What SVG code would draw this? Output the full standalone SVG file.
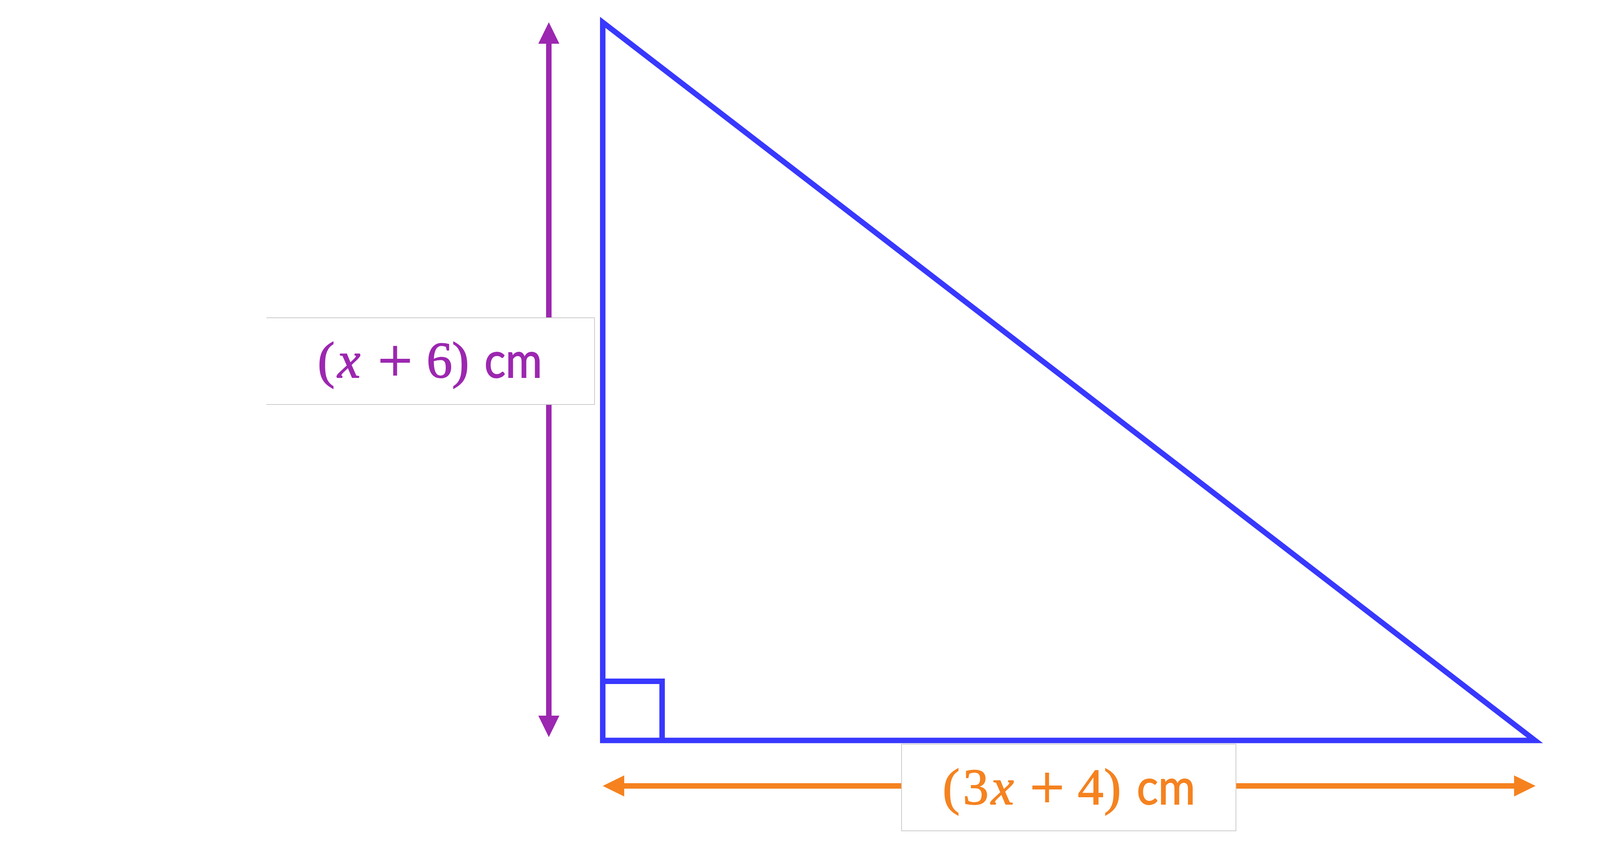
<svg xmlns="http://www.w3.org/2000/svg" width="4668" height="2172" viewBox="0 0 4668 2172">
<style>
.tri{fill:none;stroke:#3838ff;stroke-width:14;stroke-linejoin:miter;stroke-miterlimit:10}
.lbl{fill:#ffffff;stroke:none}
.edge{fill:none;stroke:#cccccc;stroke-width:2}
.t{font-family:"Liberation Serif","Times New Roman",serif;font-size:132px;stroke-width:2}
.pur{fill:#9c27b0;stroke:#9c27b0}
.org{fill:#f5821f;stroke:#f5821f}
.it{font-style:italic}
.op{font-size:158px}
.u{font-family:Lato,"Liberation Sans",sans-serif;font-size:127px}
</style>
<defs>
<marker id="ahP" viewBox="0 0 55 54" refX="0" refY="27" markerWidth="55" markerHeight="54" markerUnits="userSpaceOnUse" orient="auto-start-reverse" overflow="visible">
<path d="M0,0 L55,27 L0,54 Z" fill="#9c27b0"/>
</marker>
<marker id="ahO" viewBox="0 0 55 54" refX="0" refY="27" markerWidth="55" markerHeight="54" markerUnits="userSpaceOnUse" orient="auto-start-reverse" overflow="visible">
<path d="M0,0 L55,27 L0,54 Z" fill="#f5821f"/>
</marker>
</defs>
<rect width="4668" height="2172" fill="#ffffff"/>
<g id="triangle">
<polygon class="tri" points="1543,57.2 1543,1896.5 3929.5,1896.5"/>
<polyline class="tri" points="1543,1745 1695,1745 1695,1896.5"/>
</g>
<g id="connectors">
<line x1="1405" y1="112" x2="1405" y2="1833" stroke="#9c27b0" stroke-width="14" marker-start="url(#ahP)" marker-end="url(#ahP)"/>
<line x1="1598" y1="2013" x2="3876" y2="2013" stroke="#f5821f" stroke-width="14" marker-start="url(#ahO)" marker-end="url(#ahO)"/>
</g>
<g id="label-height">
<rect class="lbl" x="682" y="814" width="840" height="222"/>
<path class="edge" d="M682,814 H1522 V1036 H682"/>
<text class="t pur" y="967"><tspan x="813">(</tspan><tspan x="864" class="it">x</tspan><tspan x="967" y="977" class="op">+</tspan><tspan x="1092" y="967">6</tspan><tspan x="1157">)</tspan><tspan x="1240" class="u" textLength="148" lengthAdjust="spacingAndGlyphs">cm</tspan></text>
</g>
<g id="label-base">
<rect class="lbl" x="2308" y="1906" width="856" height="222"/>
<rect class="edge" x="2308" y="1906" width="856" height="222"/>
<text class="t org" y="2060"><tspan x="2413">(</tspan><tspan x="2465">3</tspan><tspan x="2537" class="it">x</tspan><tspan x="2636" y="2070" class="op">+</tspan><tspan x="2759" y="2060">4</tspan><tspan x="2826">)</tspan><tspan x="2910" class="u" textLength="150" lengthAdjust="spacingAndGlyphs">cm</tspan></text>
</g>
</svg>
